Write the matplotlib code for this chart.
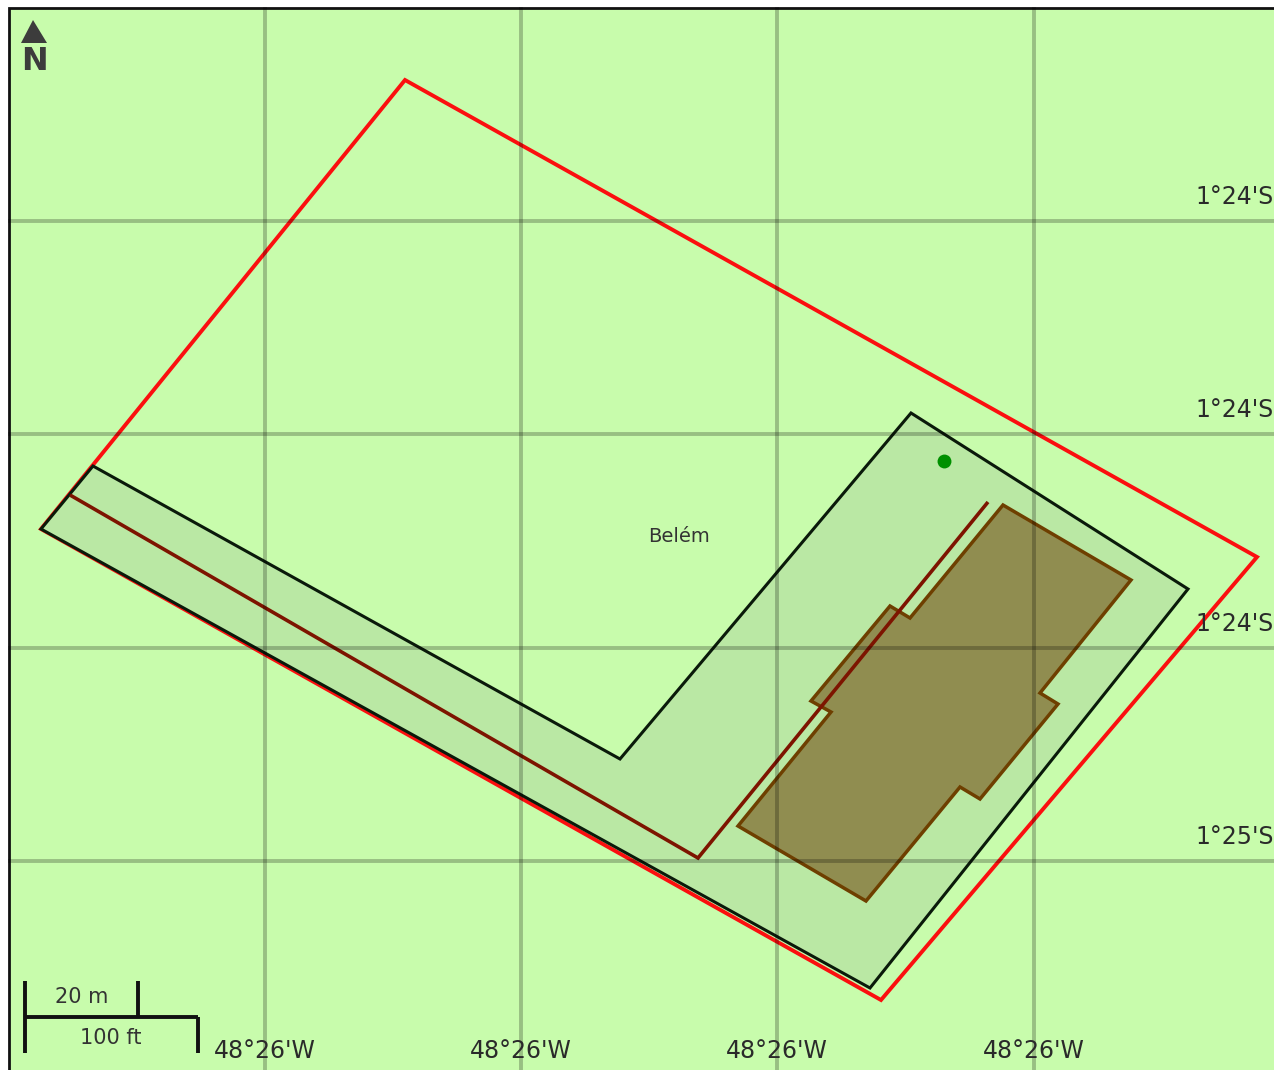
import matplotlib
matplotlib.use("Agg")
import matplotlib.pyplot as plt
from matplotlib.patches import Polygon

# everything is in picture coordinates, the map has no real scale to read
W, H = 1274, 1070

grid_x = [265, 521, 777, 1034]
grid_y = [221, 434, 648, 861]
lon_labels = ["48°26'W", "48°26'W", "48°26'W", "48°26'W"]
lat_labels = ["1°24'S", "1°24'S", "1°24'S", "1°25'S"]

red_x = [405, 1257, 881, 41]
red_y = [80, 557, 1000, 529]

black_x = [41, 93, 620, 911, 1188, 870]
black_y = [529, 466, 759, 413, 589, 988]

brown_x = [1003, 1131, 1040, 1058, 980, 960, 866, 738, 831, 811, 890, 910]
brown_y = [505, 580, 693, 704, 799, 787, 901, 826, 712, 701, 606, 618]

road_x = [70, 698, 988]
road_y = [495, 858, 502]

dot_x, dot_y = [944], [461]
city = "Belém"

GREEN = "#c8fcac"

fig = plt.figure(figsize=(W / 100, H / 100), dpi=100, facecolor="white")
ax = fig.add_axes([0, 0, 1, 1])
ax.set_xlim(0, W)
ax.set_ylim(H, 0)
ax.axis("off")

# map background and frame (only left and top show up)
ax.add_patch(Polygon([(9, 8), (W + 5, 8), (W + 5, H + 5), (9, H + 5)], closed=True,
                     facecolor=GREEN, edgecolor="#111111", linewidth=2.0, zorder=0))

ax.add_patch(Polygon(list(zip(black_x, black_y)), closed=True, facecolor="#bae8a4",
                     edgecolor="#0a1a0a", linewidth=2.2, joinstyle="miter", zorder=2))
ax.add_patch(Polygon(list(zip(brown_x, brown_y)), closed=True, facecolor="#908d50",
                     edgecolor="#6e3f00", linewidth=2.5, joinstyle="miter", zorder=3))
ax.plot(road_x, road_y, color="#7d1400", linewidth=2.6, zorder=4, solid_joinstyle="miter",
        solid_capstyle="butt")
ax.add_patch(Polygon(list(zip(red_x, red_y)), closed=True, fill=False,
                     edgecolor="#fb0f0f", linewidth=2.8, joinstyle="miter", zorder=1.5))

for x in grid_x:
    ax.plot([x, x], [9, H], color="black", alpha=0.24, linewidth=2.8, zorder=5)
for y in grid_y:
    ax.plot([10, W], [y, y], color="black", alpha=0.24, linewidth=2.8, zorder=5)

ax.plot(dot_x, dot_y, "o", color="#009000", markersize=10, markeredgewidth=0, zorder=6)
ax.text(679, 536, city, fontsize=14, color="#333333", ha="center", va="center", zorder=7)

for x, lab in zip(grid_x, lon_labels):
    ax.text(x, 1051, lab, fontsize=17, color="#2a2a2a", ha="center", va="center", zorder=7)
for y, lab in zip(grid_y, lat_labels):
    ax.text(W, y - 24, lab, fontsize=17, color="#2a2a2a", ha="right", va="center", zorder=7)

# north arrow
ax.add_patch(Polygon([(33, 20), (47, 43), (21, 43)], closed=True, facecolor="#3c3c3c",
                     edgecolor="none", zorder=7))
ax.text(34, 61, "N", fontsize=23, fontweight="bold", color="#3c3c3c", ha="center",
        va="center", zorder=7)

# scale bar
for xs, ys in [([25, 25], [981, 1053]), ([25, 198], [1017, 1017]),
               ([138, 138], [981, 1017]), ([198, 198], [1017, 1053])]:
    ax.plot(xs, ys, color="#111111", linewidth=2.8, solid_capstyle="butt", zorder=7)
ax.text(82, 997, "20 m", fontsize=15, color="#333333", ha="center", va="center", zorder=7)
ax.text(111, 1038, "100 ft", fontsize=15, color="#333333", ha="center", va="center", zorder=7)

fig.savefig("out.png", dpi=100)
plt.close(fig)
